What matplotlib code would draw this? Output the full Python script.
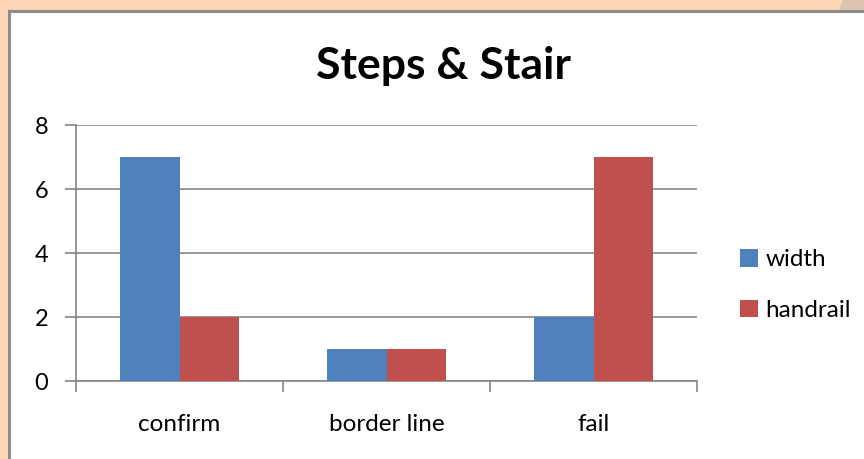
import numpy as np
import matplotlib
matplotlib.use('Agg')
import matplotlib.pyplot as plt
from matplotlib.patches import Rectangle, Polygon

categories = ['confirm', 'border line', 'fail']
width_vals = [7, 1, 2]
handrail_vals = [2, 1, 7]
series_names = ['width', 'handrail']
yticks = [0, 2, 4, 6, 8]

BLUE = '#4F81BD'
RED = '#C0504D'
GRID = '#868686'

plt.rcParams['font.family'] = ['Lato', 'DejaVu Sans']

W, H = 864, 459
fig = plt.figure(figsize=(W / 100, H / 100), dpi=100)
fig.patch.set_facecolor('#FCD5B4')

# chart frame, kept behind the axes
fig.patches.append(Polygon([[843 / W, 1], [1, 1], [1, 1 - 12 / H], [838 / W, 1 - 12 / H]],
                           closed=True, transform=fig.transFigure,
                           facecolor='#DCC5B0', edgecolor='none', zorder=-2))
fig.patches.append(Rectangle((9 / W, -0.01), 1, 1 - 11 / H + 0.01,
                             transform=fig.transFigure, facecolor='white',
                             edgecolor='#8C8C8C', linewidth=2.2, zorder=-1))

ax = fig.add_axes([76 / W, 1 - 381 / H, (697 - 76) / W, (381 - 125) / H])
ax.set_facecolor('none')

x = np.arange(len(categories))
bw = 1 / 3.5
ax.bar(x - bw / 2, width_vals, bw, color=BLUE, label=series_names[0], zorder=3)
ax.bar(x + bw / 2, handrail_vals, bw, color=RED, label=series_names[1], zorder=3)

ax.set_xlim(-0.5, len(categories) - 0.5)
ax.set_ylim(0, 8)
ax.set_yticks(yticks)
ax.yaxis.grid(True, color=GRID, linewidth=1.2, zorder=0)
ax.set_axisbelow(True)
ax.tick_params(axis='y', length=8, width=1.2, color=GRID, labelsize=17, pad=12)
ax.set_xticks(np.arange(len(categories) + 1) - 0.5)
ax.set_xticklabels([])
ax.set_xticks(x, minor=True)
ax.set_xticklabels(categories, minor=True)
ax.tick_params(axis='x', which='major', length=8, width=1.2, color=GRID, direction='out')
ax.tick_params(axis='x', which='minor', length=0, labelsize=17.5, pad=24)
for s in ['top', 'right']:
    ax.spines[s].set_visible(False)
for s in ['left', 'bottom']:
    ax.spines[s].set_color(GRID)
    ax.spines[s].set_linewidth(1.2)

fig.text(443 / W, 1 - 66 / H, 'Steps & Stair', ha='center', va='center',
         fontsize=32, fontweight='bold')

leg = ax.legend(loc='center left', bbox_to_anchor=(735 / W, 1 - 285 / H),
                bbox_transform=fig.transFigure, frameon=False, fontsize=17.5,
                handlelength=0.75, handleheight=0.75, handletextpad=0.3,
                labelspacing=1.2, borderpad=0.2, borderaxespad=0)

fig.savefig('out.png', dpi=100, facecolor=fig.get_facecolor())
